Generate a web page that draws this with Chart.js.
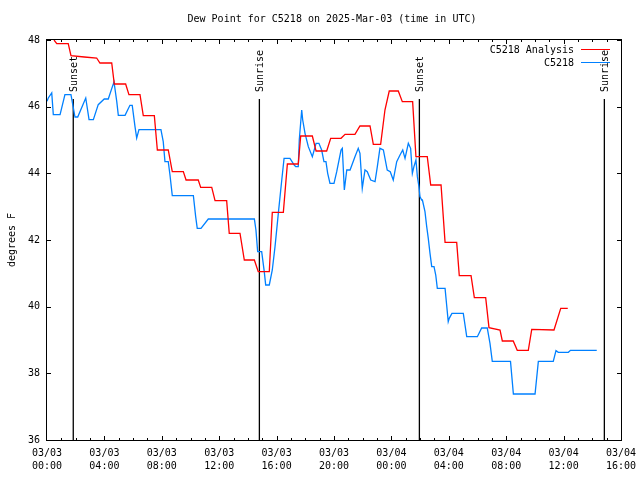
<!DOCTYPE html>
<html>
<head>
<meta charset="utf-8">
<script src="https://cdn.jsdelivr.net/npm/chart.js@4/dist/chart.umd.min.js"></script>
<style>
  body { margin: 0; background: #fff; }
  #wrap { width: 640px; height: 480px; }
</style>
</head>
<body>
<div id="wrap"><canvas id="chart" width="640" height="480"></canvas></div>
<script>
var titleText = 'Dew Point for C5218 on 2025-Mar-03 (time in UTC)';
var seriesNames = ['C5218 Analysis', 'C5218'];
var yTitle = 'degrees F';

// x values are hours since 03/03 00:00 UTC
var analysisHours = [0.49, 0.68, 1.48, 1.67, 2.6, 3.46, 3.69, 4.51, 4.69, 5.48,
    5.71, 6.48, 6.71, 7.48, 7.69, 8.45, 8.73, 9.5, 9.69, 10.54,
    10.71, 11.48, 11.71, 12.52, 12.7, 13.45, 13.75, 14.45, 14.72, 15.49,
    15.7, 16.47, 16.75, 17.51, 17.68, 18.49, 18.75, 19.49, 19.77, 20.49,
    20.77, 21.46, 21.81, 22.51, 22.74, 23.25, 23.55, 23.85, 24.48, 24.76,
    25.48, 25.71, 26.5, 26.74, 27.46, 27.74, 28.55, 28.73, 29.55, 29.78,
    30.57, 30.8, 31.57, 31.73, 32.49, 32.77, 33.54, 33.78, 35.33, 35.8,
    36.29];
var analysisTemps = [48.0, 47.89, 47.89, 47.53, 47.49, 47.46, 47.31, 47.31, 46.68, 46.68,
    46.36, 46.36, 45.73, 45.73, 44.7, 44.7, 44.05, 44.05, 43.8, 43.8,
    43.58, 43.58, 43.18, 43.18, 42.2, 42.2, 41.4, 41.4, 41.05, 41.05,
    42.83, 42.83, 44.28, 44.28, 45.12, 45.12, 44.67, 44.67, 45.05, 45.05,
    45.17, 45.17, 45.42, 45.42, 44.87, 44.87, 45.9, 46.47, 46.47, 46.15,
    46.15, 44.5, 44.5, 43.65, 43.65, 41.93, 41.93, 40.93, 40.93, 40.27,
    40.27, 39.37, 39.3, 38.97, 38.97, 38.69, 38.69, 39.32, 39.3, 39.95,
    39.95];

var obsHours = [0, 0.09, 0.33, 0.44, 0.91, 1.25, 1.67, 1.95, 2.14, 2.7,
    2.93, 3.23, 3.57, 3.99, 4.27, 4.51, 4.67, 4.86, 4.97, 5.44,
    5.78, 5.94, 6.13, 6.25, 6.41, 7.94, 8.1, 8.22, 8.45, 8.57,
    8.73, 10.2, 10.36, 10.47, 10.73, 11.24, 14.45, 14.56, 14.68, 14.96,
    15.14, 15.24, 15.49, 15.7, 15.89, 16.12, 16.36, 16.52, 16.93, 17.23,
    17.33, 17.51, 17.58, 17.75, 17.82, 17.98, 18.21, 18.49, 18.75, 18.95,
    19.14, 19.3, 19.44, 19.56, 19.72, 20.0, 20.19, 20.49, 20.58, 20.72,
    20.89, 21.12, 21.46, 21.69, 21.81, 21.97, 22.16, 22.32, 22.56, 22.86,
    23.02, 23.2, 23.44, 23.71, 23.92, 24.13, 24.37, 24.6, 24.79, 24.95,
    25.18, 25.34, 25.46, 25.57, 25.71, 25.81, 25.92, 25.99, 26.11, 26.16,
    26.34, 26.46, 26.57, 26.69, 26.81, 26.97, 27.09, 27.2, 27.74, 27.85,
    27.96, 28.03, 28.22, 29.01, 29.25, 29.99, 30.29, 30.68, 30.87, 31.03,
    32.3, 32.5, 34.01, 34.24, 35.28, 35.47, 35.63, 36.33, 36.48, 38.31];
var obsTemps = [46.16, 46.26, 46.41, 45.76, 45.76, 46.36, 46.36, 45.69, 45.69, 46.26,
    45.61, 45.61, 46.06, 46.23, 46.23, 46.54, 46.74, 46.16, 45.74, 45.74,
    46.04, 46.04, 45.41, 45.06, 45.31, 45.31, 44.95, 44.35, 44.35, 43.95,
    43.33, 43.33, 42.7, 42.35, 42.35, 42.63, 42.63, 42.3, 41.65, 41.65,
    41.05, 40.65, 40.65, 41.1, 41.8, 42.8, 43.8, 44.45, 44.45, 44.25,
    44.2, 44.2, 45.0, 45.9, 45.6, 45.2, 44.8, 44.5, 44.9, 44.9,
    44.7, 44.35, 44.35, 44.0, 43.7, 43.7, 44.05, 44.7, 44.75, 43.5,
    44.1, 44.1, 44.5, 44.75, 44.6, 43.55, 44.1, 44.05, 43.8, 43.75,
    44.2, 44.75, 44.7, 44.1, 44.05, 43.8, 44.35, 44.55, 44.7, 44.45,
    44.9, 44.75, 44.0, 44.2, 44.4, 43.9, 43.6, 43.3, 43.2, 43.2,
    42.85, 42.4, 42.05, 41.6, 41.2, 41.2, 40.95, 40.55, 40.55, 40.05,
    39.55, 39.65, 39.8, 39.8, 39.1, 39.1, 39.36, 39.36, 38.9, 38.36,
    38.36, 37.38, 37.38, 38.36, 38.36, 38.68, 38.63, 38.63, 38.69, 38.69];

var sunHours = [1.83, 14.8, 25.95, 38.84];
var sunLabels = ['Sunset', 'Sunrise', 'Sunset', 'Sunrise'];
var sunLineTop = 46.23;

var xTickLabels = [['03/03', '00:00'], ['03/03', '04:00'], ['03/03', '08:00'], ['03/03', '12:00'],
    ['03/03', '16:00'], ['03/03', '20:00'], ['03/04', '00:00'], ['03/04', '04:00'],
    ['03/04', '08:00'], ['03/04', '12:00'], ['03/04', '16:00']];
var yTicks = [36, 38, 40, 42, 44, 46, 48];

var seriesColors = ['#ff0000', '#0080ff'];
var monoFont = '"DejaVu Sans Mono", "Liberation Mono", monospace';

function toPoints(xs, ys) {
    return xs.map(function(x, i) { return {x: x, y: ys[i]}; });
}

var datasets = [
    {label: seriesNames[0], data: toPoints(analysisHours, analysisTemps), borderColor: seriesColors[0]},
    {label: seriesNames[1], data: toPoints(obsHours, obsTemps), borderColor: seriesColors[1]}
];
sunHours.forEach(function(h) {
    datasets.push({label: '', data: [{x: h, y: 36}, {x: h, y: sunLineTop}], borderColor: '#000000'});
});
datasets.forEach(function(d) {
    d.borderWidth = 1.3;
    d.pointRadius = 0;
    d.tension = 0;
    d.fill = false;
});

// frame, inward ticks, title, legend and sunrise/sunset labels, gnuplot style
var decorPlugin = {
    id: 'decor',
    afterDatasetsDraw: function(chart) {
        var ctx = chart.ctx;
        var a = chart.chartArea;
        var xs = chart.scales.x;
        var ys = chart.scales.y;
        ctx.save();
        ctx.strokeStyle = '#000';
        ctx.lineWidth = 1;
        ctx.strokeRect(Math.round(a.left) - 0.5, Math.round(a.top) - 0.5,
            Math.round(a.right - a.left) + 1, Math.round(a.bottom - a.top) + 1);

        ctx.beginPath();
        for (var h = 1; h < 40; h++) {
            var px = Math.round(xs.getPixelForValue(h)) + 0.5;
            var len = (h % 4 === 0) ? 4 : 2;
            ctx.moveTo(px, a.bottom);
            ctx.lineTo(px, a.bottom - len);
            ctx.moveTo(px, a.top);
            ctx.lineTo(px, a.top + len);
        }
        yTicks.forEach(function(v) {
            var py = Math.round(ys.getPixelForValue(v)) + 0.5;
            ctx.moveTo(a.left, py);
            ctx.lineTo(a.left + 4, py);
            ctx.moveTo(a.right, py);
            ctx.lineTo(a.right - 4, py);
        });
        ctx.stroke();

        ctx.fillStyle = '#000';
        ctx.font = '10px ' + monoFont;
        ctx.textAlign = 'center';
        ctx.textBaseline = 'middle';
        ctx.fillText(titleText, (a.left + a.right) / 2 - 2, 19);

        // legend
        ctx.textAlign = 'right';
        seriesNames.forEach(function(name, i) {
            var ly = a.top + 10 + i * 13;
            ctx.fillText(name, a.right - 47, ly);
            ctx.strokeStyle = seriesColors[i];
            ctx.beginPath();
            ctx.moveTo(a.right - 40, Math.round(ly) - 0.5);
            ctx.lineTo(a.right - 11, Math.round(ly) - 0.5);
            ctx.stroke();
        });

        // sun event labels
        var labelBottom = ys.getPixelForValue(sunLineTop) - 7;
        ctx.textAlign = 'left';
        sunHours.forEach(function(h, i) {
            ctx.save();
            ctx.translate(xs.getPixelForValue(h) + 1, labelBottom);
            ctx.rotate(-Math.PI / 2);
            ctx.fillText(sunLabels[i], 0, 0);
            ctx.restore();
        });
        ctx.restore();
    }
};

Chart.defaults.font.family = monoFont;
Chart.defaults.font.size = 10;
Chart.defaults.color = '#000';

new Chart(document.getElementById('chart'), {
    type: 'line',
    data: {datasets: datasets},
    options: {
        responsive: false,
        animation: false,
        devicePixelRatio: 1,
        layout: {padding: {top: 40, right: 19, left: 0, bottom: 0}},
        plugins: {
            legend: {display: false},
            tooltip: {enabled: false},
            title: {display: false}
        },
        scales: {
            x: {
                type: 'linear',
                min: 0,
                max: 40,
                grid: {display: false, drawTicks: false},
                border: {display: false},
                ticks: {
                    stepSize: 4,
                    padding: 7,
                    maxRotation: 0,
                    autoSkip: false,
                    font: {size: 10, lineHeight: 1.3},
                    callback: function(value) {
                        return xTickLabels[Math.round(value / 4)];
                    }
                },
                afterFit: function(scale) {
                    scale.height = 40;
                    scale.paddingLeft = 0;
                    scale.paddingRight = 0;
                }
            },
            y: {
                min: 36,
                max: 48,
                grid: {display: false, drawTicks: false},
                border: {display: false},
                ticks: {stepSize: 2, padding: 7},
                title: {display: true, text: yTitle, padding: {top: 6, bottom: 0}},
                afterFit: function(scale) { scale.width = 47; }
            }
        }
    },
    plugins: [decorPlugin]
});
</script>
</body>
</html>
